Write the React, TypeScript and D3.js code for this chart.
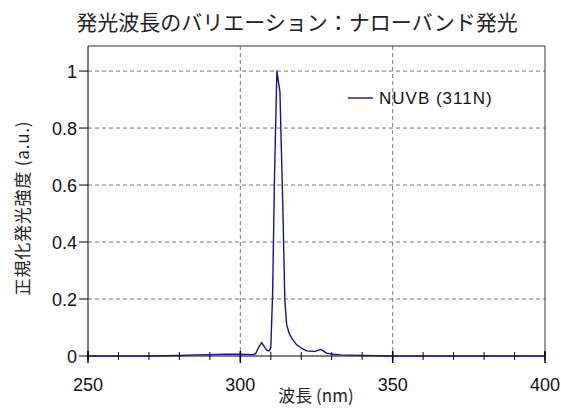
import React from 'react';
import * as d3 from 'd3';

const wavelengths = [250, 260, 270, 280, 285, 290, 295, 300, 304, 305, 306, 307, 308, 308.7, 309.5, 310, 310.6, 311.2, 312, 313, 314, 314.6, 315.2, 316, 317, 318.5, 320, 321.8, 324.5, 325.5, 326.4, 327.2, 328.3, 330.5, 333, 336, 340, 345, 350, 360, 380, 400];
const intensity = [0, 0, 0, 0.002, 0.004, 0.005, 0.006, 0.006, 0.005, 0.008, 0.03, 0.047, 0.03, 0.02, 0.018, 0.03, 0.22, 0.62, 1.0, 0.927, 0.5, 0.196, 0.11, 0.08, 0.06, 0.039, 0.028, 0.018, 0.016, 0.02, 0.023, 0.018, 0.01, 0.006, 0.004, 0.003, 0.002, 0.001, 0, 0, 0, 0];

const xTicks = [250, 300, 350, 400];
const xMinor = d3.range(250, 401, 10);
const yTicks = [0, 0.2, 0.4, 0.6, 0.8, 1];
const yTickLabels = ['0', '0.2', '0.4', '0.6', '0.8', '1'];

const seriesName = 'NUVB (311N)';
const title = '発光波長のバリエーション：ナローバンド発光';
const xTitle = '波長 (nm)';
const yTitle = '正規化発光強度 (a.u.)';

const width = 561;
const height = 409;
const left = 88;
const right = 545;
const top = 46;
const bottom = 356;

const font = '"Liberation Sans", "Noto Sans CJK JP", sans-serif';
const jpFont = '"Noto Sans CJK JP", sans-serif';

export default function App() {
  const x = d3.scaleLinear().domain([250, 400]).range([left, right]);
  const y = d3.scaleLinear().domain([0, 1.088]).range([bottom, top]);

  const points: [number, number][] = wavelengths.map((w, i) => [x(w), y(intensity[i])]);
  const line = d3.line();

  return (
    <svg width={width} height={height} style={{ position: 'absolute', left: 0, top: 0 }}>
      <rect width={width} height={height} fill="#fff" />
      <text x={297} y={30} textAnchor="middle" fontSize={21} fontFamily={jpFont} fill="#222">{title}</text>

      {/* grid */}
      {yTicks.filter(t => t > 0).map(t => (
        <line key={t} x1={left} x2={right} y1={y(t)} y2={y(t)} stroke="#777" strokeDasharray="4,3" strokeWidth={1} />
      ))}
      {[300, 350].map(t => (
        <line key={t} x1={x(t)} x2={x(t)} y1={top} y2={bottom} stroke="#777" strokeDasharray="4,3" strokeWidth={1} />
      ))}

      {/* frame */}
      <line x1={left} x2={right} y1={top} y2={top} stroke="#333" />
      <line x1={right} x2={right} y1={top} y2={bottom} stroke="#333" />
      <line x1={left} x2={left} y1={top} y2={bottom + 4} stroke="#000" />
      <line x1={left} x2={right} y1={bottom} y2={bottom} stroke="#000" />

      {/* x ticks */}
      {xMinor.map(t => (
        <line key={t} x1={x(t)} x2={x(t)} y1={bottom - 4} y2={bottom + 4} stroke="#000" />
      ))}
      {xTicks.map(t => (
        <line key={'M' + t} x1={x(t)} x2={x(t)} y1={bottom - 5} y2={bottom + 7} stroke="#000" strokeWidth={1.5} />
      ))}
      {xTicks.map(t => (
        <text key={'l' + t} x={x(t)} y={391} textAnchor="middle" fontSize={18} fontFamily={font} fill="#111">{t}</text>
      ))}

      {/* y ticks */}
      {yTicks.map((t, i) => (
        <g key={t}>
          <line x1={left - 9} x2={left} y1={y(t)} y2={y(t)} stroke="#000" />
          <text x={left - 11} y={y(t) + 6.5} textAnchor="end" fontSize={18} fontFamily={font} fill="#111">{yTickLabels[i]}</text>
        </g>
      ))}

      <path d={line(points) ?? ''} fill="none" stroke="#14148c" strokeWidth={1.4} strokeLinejoin="round" />

      {/* legend */}
      <line x1={348} x2={373} y1={98} y2={98} stroke="#14148c" strokeWidth={1.4} />
      <text x={379} y={104} fontSize={17} letterSpacing={1} fontFamily={font} fill="#111">{seriesName}</text>

      <text x={316} y={402} textAnchor="middle" fontSize={17} fontFamily={jpFont} fill="#222">{xTitle}</text>
      <text transform={`translate(29,${208}) rotate(-90)`} textAnchor="middle" fontSize={17} letterSpacing={0.8} fontFamily={jpFont} fill="#222">{yTitle}</text>
    </svg>
  );
}
